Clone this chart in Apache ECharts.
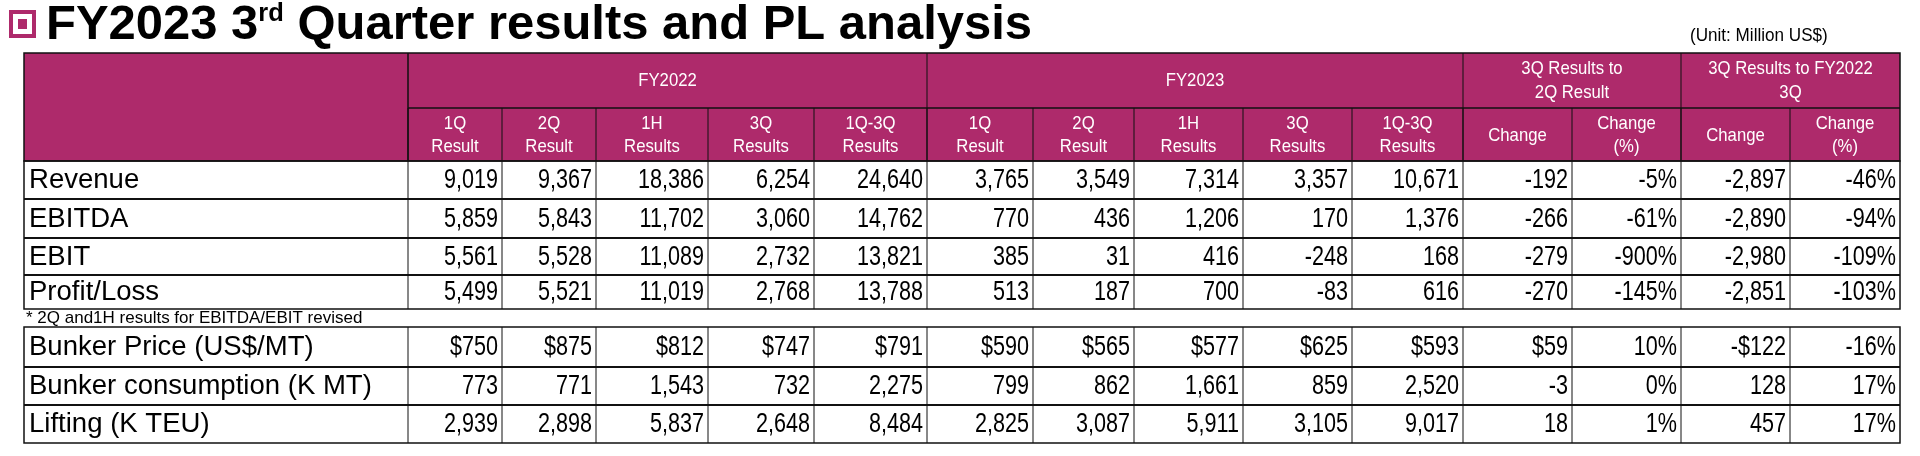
<!DOCTYPE html>
<html><head><meta charset="utf-8">
<script src="https://cdn.jsdelivr.net/npm/echarts@6/dist/echarts.min.js"></script>
<style>html,body{margin:0;padding:0;background:#fff}#c{width:1920px;height:456px}</style>
</head><body><div id="c"></div>
<script>
const groupHeaders = [
  {label:'FY2022', from:1, to:5},
  {label:'FY2023', from:6, to:10},
  {label:'3Q Results to\n2Q Result', from:11, to:12},
  {label:'3Q Results to FY2022\n3Q', from:13, to:14}
];
const subHeaders = ['1Q\nResult','2Q\nResult','1H\nResults','3Q\nResults','1Q-3Q\nResults',
  '1Q\nResult','2Q\nResult','1H\nResults','3Q\nResults','1Q-3Q\nResults',
  'Change','Change\n(%)','Change','Change\n(%)'];
const rowLabels1 = ['Revenue','EBITDA','EBIT','Profit/Loss'];
const rowValues1 = [
  ['9,019','9,367','18,386','6,254','24,640','3,765','3,549','7,314','3,357','10,671','-192','-5%','-2,897','-46%'],
  ['5,859','5,843','11,702','3,060','14,762','770','436','1,206','170','1,376','-266','-61%','-2,890','-94%'],
  ['5,561','5,528','11,089','2,732','13,821','385','31','416','-248','168','-279','-900%','-2,980','-109%'],
  ['5,499','5,521','11,019','2,768','13,788','513','187','700','-83','616','-270','-145%','-2,851','-103%']
];
const rowLabels2 = ['Bunker Price (US$/MT)','Bunker consumption (K MT)','Lifting (K TEU)'];
const rowValues2 = [
  ['$750','$875','$812','$747','$791','$590','$565','$577','$625','$593','$59','10%','-$122','-16%'],
  ['773','771','1,543','732','2,275','799','862','1,661','859','2,520','-3','0%','128','17%'],
  ['2,939','2,898','5,837','2,648','8,484','2,825','3,087','5,911','3,105','9,017','18','1%','457','17%']
];
const titleMain = 'FY2023 3', titleSup = 'rd', titleRest = ' Quarter results and PL analysis';
const unitText = '(Unit: Million US$)';
const footnote = '* 2Q and1H results for EBITDA/EBIT revised';

const colX = [24,408,502,596,708,814,927,1033,1134,1243,1352,1463,1572,1681,1790,1900];
const hTop = 53, hMid = 108, hBot = 161;
const rows1Y = [161,199,238,275,309];
const rows2Y = [327,367,405,443];
const MAG = '#AE2A6B';
const F = '"Liberation Sans", Arial, sans-serif';
const els = [];
function rect(x,y,w,h,fill,lw){els.push({type:'rect',shape:{x,y,width:w,height:h},style:{fill:fill||'none',stroke:'#111',lineWidth:lw||1}});}
function line(x1,y1,x2,y2,lw,col){els.push({type:'line',shape:{x1,y1,x2,y2},style:{stroke:col||'#111',lineWidth:lw||1}});}
function text(t,x,y,opt,sx){els.push({type:'text',x,y,scaleX:sx||1,style:Object.assign({text:t,fill:'#000',font:'21px '+F,verticalAlign:'middle'},opt)});}

els.push({type:'rect',shape:{x:9,y:10,width:27,height:28},style:{fill:MAG}});
els.push({type:'rect',shape:{x:13,y:14,width:19,height:20},style:{fill:'#fff'}});
els.push({type:'rect',shape:{x:18,y:19,width:9,height:10},style:{fill:MAG}});
els.push({type:'text',x:46,y:50,scaleX:1.02,style:{text:'{a|'+titleMain+'}{s|'+titleSup+'}{a|'+titleRest+'}',verticalAlign:'bottom',
  rich:{a:{font:'bold 48px '+F,fill:'#000',verticalAlign:'bottom'},
        s:{font:'bold 25px '+F,fill:'#000',verticalAlign:'top',padding:[0,0,22,0]}}}});
text(unitText,1690,36,{font:'18px '+F},0.95);

rect(colX[0],hTop,colX[15]-colX[0],hBot-hTop,MAG,1.5);
line(colX[1],hTop,colX[1],hBot,1);
groupHeaders.forEach(g=>{
  const x1=colX[g.from], x2=colX[g.to+1];
  line(x1,hTop,x1,hBot,1);
  text(g.label,(x1+x2)/2,(hTop+hMid)/2,{fill:'#fff',font:'19px '+F,align:'center',lineHeight:24},0.88);
});
line(colX[1],hMid,colX[15],hMid,1.5);
subHeaders.forEach((s,i)=>{
  const x1=colX[i+1], x2=colX[i+2];
  line(x1,hMid,x1,hBot,1);
  text(s,(x1+x2)/2,(hMid+hBot)/2+1,{fill:'#fff',font:'19px '+F,align:'center',lineHeight:23},0.88);
});

function body(labels,values,ys){
  rect(colX[0],ys[0],colX[15]-colX[0],ys[ys.length-1]-ys[0],null,1.5);
  for(let r=1;r<ys.length-1;r++) line(colX[0],ys[r],colX[15],ys[r],2);
  for(let c=1;c<15;c++) line(colX[c],ys[0],colX[c],ys[ys.length-1],1);
  labels.forEach((l,r)=>{
    const yc=(ys[r]+ys[r+1])/2+1;
    text(l,colX[0]+5,yc,{align:'left',font:'27px '+F},1.02);
    values[r].forEach((v,c)=>text(v,colX[c+2]-4,yc,{align:'right',font:'27px '+F},0.8));
  });
}
body(rowLabels1,rowValues1,rows1Y);
text(footnote,colX[0]+2,318,{font:'17px '+F},1.0);
body(rowLabels2,rowValues2,rows2Y);

const chart = echarts.init(document.getElementById('c'));
chart.setOption({graphic:{elements:els}});
</script></body></html>
